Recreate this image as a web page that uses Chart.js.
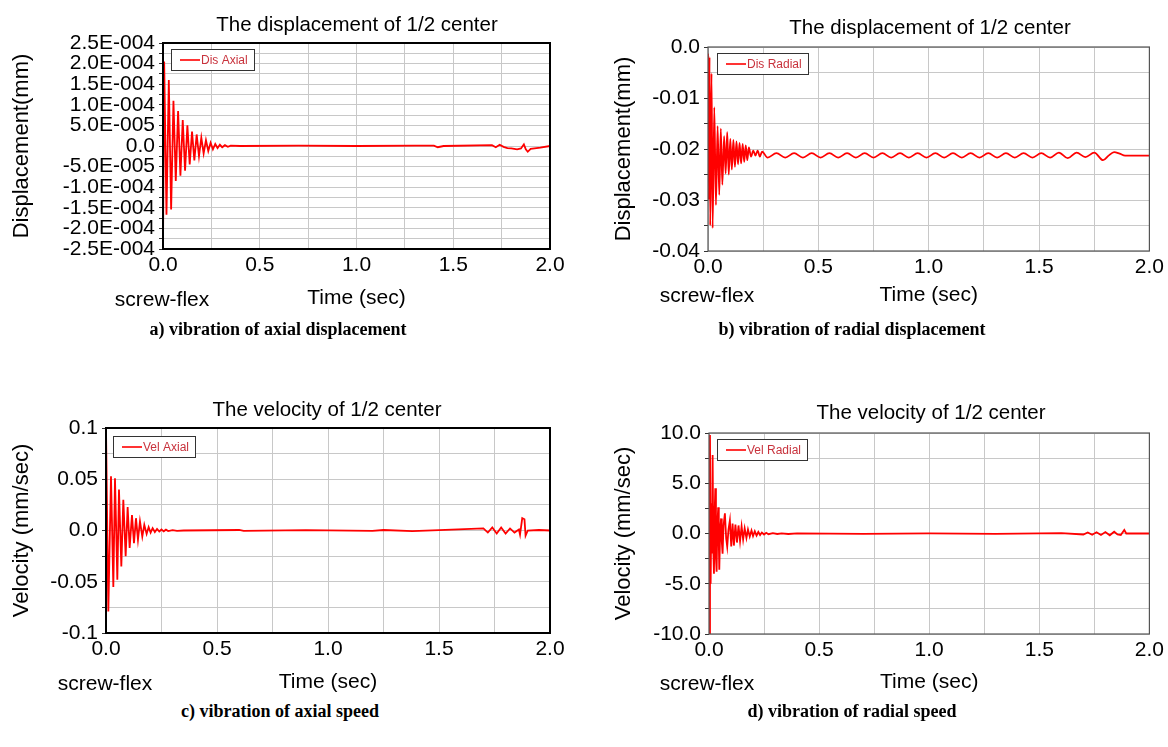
<!DOCTYPE html>
<html><head><meta charset="utf-8">
<script src="https://cdn.jsdelivr.net/npm/chart.js@4.4.1/dist/chart.umd.min.js"></script>
<style>
html,body{margin:0;padding:0;background:#fff;}
#page{position:relative;width:1168px;height:747px;overflow:hidden;font-family:"Liberation Sans",Arial,sans-serif;background:#fff;}
canvas{position:absolute;}
.t{position:absolute;transform:translate(-50%,-50%);white-space:nowrap;color:#000;line-height:1;}
.ttl{font-size:20.5px;}
.sf{font-size:21px;}
.cap{font-family:"Liberation Serif","Times New Roman",serif;font-weight:bold;font-size:18px;}
</style></head><body><div id="page">
<canvas id="cA" width="584" height="320" style="left:0;top:0"></canvas>
<canvas id="cB" width="584" height="320" style="left:584px;top:0"></canvas>
<canvas id="cC" width="584" height="320" style="left:0;top:380px"></canvas>
<canvas id="cD" width="584" height="320" style="left:584px;top:380px"></canvas>
<div class="t ttl" style="left:357px;top:24px">The displacement of 1/2 center</div>
<div class="t ttl" style="left:930px;top:27px">The displacement of 1/2 center</div>
<div class="t ttl" style="left:327px;top:409px">The velocity of 1/2 center</div>
<div class="t ttl" style="left:931px;top:412px">The velocity of 1/2 center</div>
<div class="t sf" style="left:162px;top:298px">screw-flex</div>
<div class="t sf" style="left:707px;top:294px">screw-flex</div>
<div class="t sf" style="left:105px;top:682px">screw-flex</div>
<div class="t sf" style="left:707px;top:682px">screw-flex</div>
<div class="t cap" style="left:278px;top:329px">a) vibration of axial displacement</div>
<div class="t cap" style="left:852px;top:329px">b) vibration of radial displacement</div>
<div class="t cap" style="left:280px;top:711px">c) vibration of axial speed</div>
<div class="t cap" style="left:852px;top:711px">d) vibration of radial speed</div>
</div>
<script>
// ---- data: [time (sec), value] ----
const timeTicks = [0, 0.5, 1.0, 1.5, 2.0];

const disAxial = [[0,-2.5e-4],[0.006,2.05e-4],[0.018,-1.67e-4],[0.030,1.60e-4],[0.042,-1.54e-4],[0.054,1.10e-4],
 [0.066,-0.85e-4],[0.078,0.85e-4],[0.090,-0.72e-4],[0.102,0.63e-4],[0.114,-0.60e-4],[0.126,0.50e-4],[0.138,-0.45e-4],
 [0.150,0.35e-4],[0.162,-0.35e-4],[0.174,0.28e-4],[0.186,-0.25e-4],[0.198,0.20e-4],[0.210,-0.18e-4],[0.222,0.14e-4],
 [0.234,-0.12e-4],[0.246,0.08e-4],[0.258,-0.08e-4],[0.270,0.05e-4],[0.282,-0.05e-4],[0.294,0.03e-4],[0.306,-0.03e-4],
 [0.320,0.02e-4],[0.335,-0.02e-4],[0.350,0.01e-4],[0.400,0],[0.700,0.01e-4],[1.000,0],[1.300,0.01e-4],[1.400,0.01e-4],
 [1.420,-0.03e-4],[1.450,0],[1.700,0.02e-4],[1.720,-0.03e-4],[1.740,0.03e-4],[1.760,-0.02e-4],[1.780,-0.05e-4],
 [1.800,-0.06e-4],[1.830,-0.08e-4],[1.850,-0.06e-4],[1.865,0.04e-4],[1.875,-0.08e-4],[1.885,-0.14e-4],[1.900,-0.07e-4],
 [1.950,-0.04e-4],[2.000,0]];

const disRadial = [[0,-0.0013],[0.004,-0.030],[0.007,-0.002],[0.010,-0.035],[0.016,-0.0052],[0.021,-0.0355],
 [0.0285,-0.0118],[0.036,-0.031],[0.0435,-0.0155],[0.051,-0.029],[0.058,-0.016],[0.065,-0.027],[0.073,-0.0175],
 [0.080,-0.0248],[0.087,-0.0167],[0.094,-0.025],[0.101,-0.018],[0.108,-0.024],[0.115,-0.0182],[0.122,-0.0235],
 [0.129,-0.0185],[0.136,-0.023],[0.143,-0.0188],[0.150,-0.0228],[0.157,-0.019],[0.164,-0.0225],[0.171,-0.0193],
 [0.178,-0.0222],[0.185,-0.0197],[0.195,-0.0215],[0.205,-0.0203],[0.215,-0.0213],[0.225,-0.0203],[0.235,-0.0215],
 [0.245,-0.0205],[0.27,-0.0217],[0.31,-0.0208],[0.35,-0.0217],[0.39,-0.0208],[0.43,-0.0217],[0.47,-0.0208],
 [0.51,-0.0217],[0.55,-0.0208],[0.59,-0.0217],[0.63,-0.0208],[0.67,-0.0217],[0.71,-0.0208],[0.75,-0.0217],
 [0.79,-0.0208],[0.83,-0.0217],[0.87,-0.0208],[0.91,-0.0217],[0.95,-0.0208],[0.99,-0.0217],[1.03,-0.0208],
 [1.07,-0.0217],[1.11,-0.0208],[1.15,-0.0217],[1.19,-0.0208],[1.23,-0.0217],[1.27,-0.0208],[1.31,-0.0217],
 [1.35,-0.0208],[1.39,-0.0217],[1.43,-0.0208],[1.47,-0.0217],[1.51,-0.0208],[1.55,-0.0217],[1.59,-0.0207],
 [1.63,-0.0218],[1.67,-0.0207],[1.71,-0.0216],[1.75,-0.0207],[1.79,-0.0222],[1.815,-0.0213],[1.84,-0.0206],
 [1.865,-0.0209],[1.89,-0.0213],[2.0,-0.0213]];

const velAxial = [[0,0.1],[0.0105,-0.079],[0.0225,0.053],[0.033,-0.055],[0.0405,0.051],[0.051,-0.048],[0.0585,0.040],
 [0.069,-0.035],[0.078,0.030],[0.0885,-0.025],[0.0975,0.023],[0.1065,-0.017],[0.117,0.015],[0.126,-0.0124],
 [0.135,0.012],[0.144,-0.009],[0.153,0.009],[0.1635,-0.006],[0.1725,0.0055],[0.183,-0.0033],[0.192,0.0033],
 [0.201,-0.002],[0.21,0.0023],[0.22,-0.0015],[0.23,0.0015],[0.24,-0.001],[0.25,0.001],[0.26,-0.0008],[0.27,0.0008],
 [0.28,-0.0005],[0.30,0.0004],[0.32,-0.0003],[0.35,0],[0.60,0.0005],[0.62,-0.0004],[0.90,0.0003],[1.20,-0.0004],
 [1.25,0.0005],[1.38,-0.0006],[1.50,0.0004],[1.70,0.002],[1.72,-0.002],[1.74,0.003],[1.76,-0.003],[1.78,0.003],
 [1.80,-0.003],[1.82,0.002],[1.84,-0.002],[1.86,0.001],[1.865,-0.004],[1.875,0.012],[1.885,0.011],[1.89,-0.005],
 [1.90,0],[1.95,0.0005],[2.0,0]];

const velRadial = [[0,-10],[0.0045,9.8],[0.0075,-5.0],[0.011,3.0],[0.0135,-2.0],[0.0165,7.8],[0.0195,-1.5],
 [0.0226,-4.0],[0.0256,2.0],[0.0286,4.5],[0.0316,-2.5],[0.0346,-3.8],[0.038,1.0],[0.042,2.6],[0.0445,-1.0],
 [0.0467,-3.6],[0.051,0.5],[0.055,1.5],[0.058,-0.8],[0.0617,-2.0],[0.066,0.8],[0.0722,2.0],[0.078,-0.5],
 [0.0827,-1.3],[0.0885,0.4],[0.0948,1.3],[0.101,-1.3],[0.107,1.0],[0.113,-1.2],[0.120,0.9],[0.127,-0.9],
 [0.134,0.8],[0.141,-0.75],[0.148,0.7],[0.155,-0.6],[0.162,0.5],[0.170,-0.45],[0.177,0.4],[0.185,-0.3],
 [0.193,0.3],[0.200,-0.25],[0.208,0.22],[0.216,-0.2],[0.224,0.15],[0.232,-0.15],[0.24,0.1],[0.25,-0.1],
 [0.26,0.07],[0.27,-0.07],[0.29,0.03],[0.31,-0.05],[0.33,0.02],[0.36,-0.05],[0.40,0.02],[0.70,-0.03],
 [1.00,0.02],[1.30,-0.03],[1.60,0.03],[1.70,-0.1],[1.72,0.1],[1.74,-0.12],[1.76,0.12],[1.78,-0.15],
 [1.80,0.15],[1.82,-0.18],[1.84,0.18],[1.855,-0.1],[1.87,-0.15],[1.886,0.35],[1.895,0],[2.0,0]];

const seriesNames = ['Dis Axial', 'Dis Radial', 'Vel Axial', 'Vel Radial'];
const yTitles = ['Displacement(mm)', 'Displacement(mm)', 'Velocity (mm/sec)', 'Velocity (mm/sec)'];

// ---- formatting ----
function fmtE(v){
  if (Math.abs(v) < 1e-12) return '0.0';
  const parts = v.toExponential(1).split('e');
  const ex = parseInt(parts[1], 10);
  return parts[0] + 'E' + (ex < 0 ? '-' : '+') + String(Math.abs(ex)).padStart(3, '0');
}
function fmt2(v){ return Math.abs(v) < 1e-12 ? '0.0' : v.toFixed(2); }
function fmtShort(v){ return Math.abs(v) < 1e-12 ? '0.0' : String(parseFloat(v.toFixed(3))); }
function fmt1(v){ return Math.abs(v) < 1e-12 ? '0.0' : v.toFixed(1); }

Chart.defaults.font.family = '"Liberation Sans", Arial, sans-serif';
Chart.defaults.color = '#000';

const framePlugin = {
  id: 'frameBox',
  afterDatasetsDraw(chart, args, opts){
    const {ctx, chartArea: a} = chart;
    ctx.save();
    ctx.font = '12px "Liberation Sans", Arial, sans-serif';
    const tw = ctx.measureText(opts.text).width;
    const x = Math.round(a.left + opts.dx), y = Math.round(a.top + opts.dy), h = 21, w = Math.round(30 + tw + 6);
    ctx.fillStyle = '#fff';
    ctx.fillRect(x, y, w, h);
    ctx.strokeStyle = '#333';
    ctx.lineWidth = 1;
    ctx.strokeRect(x + 0.5, y + 0.5, w, h);
    ctx.strokeStyle = '#ff0000';
    ctx.lineWidth = 1.6;
    ctx.beginPath(); ctx.moveTo(x + 9, y + h/2 + 0.5); ctx.lineTo(x + 29, y + h/2 + 0.5); ctx.stroke();
    ctx.fillStyle = '#c8323c';
    ctx.textBaseline = 'middle';
    ctx.textAlign = 'left';
    ctx.fillText(opts.text, x + 30, y + h/2 + 1);
    ctx.strokeStyle = opts.color;
    ctx.lineWidth = opts.width;
    ctx.strokeRect(a.left, a.top, a.right - a.left, a.bottom - a.top);
    ctx.restore();
  }
};

const setups = [
  {id:'cA', data:disAxial, k:0, yMin:-2.5e-4, yMax:2.5e-4, yStep:0.25e-4, fmt:fmtE, yW:163, yTitlePad:9, xH:62,
   pad:{top:43,right:34,bottom:9,left:0}, frameColor:'#000', frameW:2, dx:8, dy:6},
  {id:'cB', data:disRadial, k:1, yMin:-0.04, yMax:0, yStep:0.005, fmt:fmt2, yW:124, yTitlePad:27, xH:57,
   pad:{top:47,right:15,bottom:12,left:0}, frameColor:'#555', frameW:1.2, dx:9, dy:6},
  {id:'cC', data:velAxial, k:2, yMin:-0.1, yMax:0.1, yStep:0.025, fmt:fmtShort, yW:106, yTitlePad:9, xH:62,
   pad:{top:48,right:34,bottom:5,left:0}, frameColor:'#000', frameW:2, dx:7, dy:8},
  {id:'cD', data:velRadial, k:3, yMin:-10, yMax:10, yStep:2.5, fmt:fmt1, yW:125, yTitlePad:27, xH:61,
   pad:{top:53,right:16,bottom:5,left:0}, frameColor:'#555', frameW:1.2, dx:8, dy:6}
];

setups.forEach(s => {
  new Chart(document.getElementById(s.id), {
    type: 'line',
    data: {
      datasets: [{
        label: seriesNames[s.k],
        data: s.data.map(p => ({x: p[0], y: p[1]})),
        borderColor: '#ff0000',
        borderWidth: 1.8,
        pointRadius: 0,
        fill: false,
        tension: 0,
        cubicInterpolationMode: s.k === 1 ? 'monotone' : 'default'
      }]
    },
    options: {
      responsive: false,
      animation: false,
      layout: { padding: s.pad },
      plugins: {
        legend: { display: false },
        tooltip: { enabled: false },
        frameBox: { text: seriesNames[s.k], color: s.frameColor, width: s.frameW, dx: s.dx, dy: s.dy }
      },
      scales: {
        x: {
          type: 'linear', min: 0, max: 2,
          afterFit(sc){ sc.height = s.xH; },
          border: { display: false },
          grid: { color: '#c8c8c8', lineWidth: 1, drawTicks: false },
          ticks: {
            stepSize: 0.25, autoSkip: false, maxRotation: 0, padding: 4,
            font: { size: 21 },
            callback: (v) => {
              const hit = timeTicks.find(t => Math.abs(t - v) < 1e-9);
              return hit === undefined ? '' : hit.toFixed(1);
            }
          },
          title: { display: true, text: 'Time (sec)', font: { size: 21 }, padding: { top: 0, bottom: 0 } }
        },
        y: {
          min: s.yMin, max: s.yMax,
          afterFit(sc){ sc.width = s.yW; },
          border: { display: false },
          grid: { color: '#c8c8c8', lineWidth: 1, drawTicks: true, tickLength: 4, tickColor: '#333' },
          ticks: {
            stepSize: s.yStep, autoSkip: false, padding: 4,
            font: { size: 21 },
            callback: (v, i) => (i % 2 === 0 ? s.fmt(v) : '')
          },
          title: { display: true, text: yTitles[s.k], font: { size: 22 }, padding: { top: s.yTitlePad, bottom: 0 } }
        }
      }
    },
    plugins: [framePlugin]
  });
});
</script>
</body></html>
